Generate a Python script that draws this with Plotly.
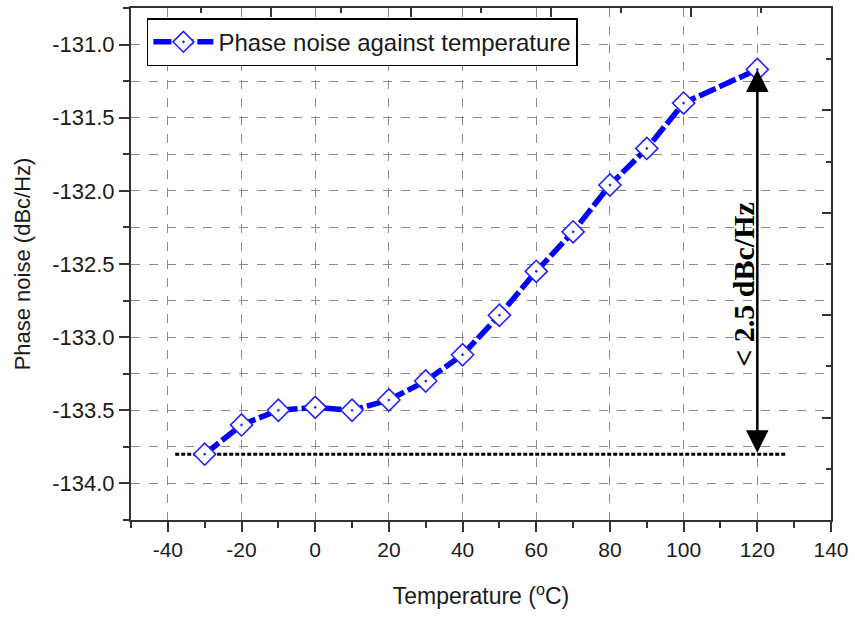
import plotly.graph_objects as go

# Data
temperature = [-30, -20, -10, 0, 10, 20, 30, 40, 50, 60, 70, 80, 90, 100, 120]
phase_noise = [-133.80, -133.60, -133.50, -133.48, -133.50, -133.43, -133.30, -133.12,
               -132.85, -132.55, -132.28, -131.96, -131.71, -131.40, -131.17]
series_name = "Phase noise against temperature"
x_ticks = [-40, -20, 0, 20, 40, 60, 80, 100, 120, 140]
y_ticks = [-134.0, -133.5, -133.0, -132.5, -132.0, -131.5, -131.0]
ref_line_x = [-38, 128]
annotation_text = "&lt; 2.5 dBc/Hz"

BLUE = "#0000ff"
AXIS = "#333333"
GRID = "#8a8a8a"
TXT = "#1a1a1a"
FONT = "Liberation Sans, Arial, sans-serif"

fig = go.Figure()

# reference dotted line at the minimum value
y_min = min(phase_noise)
fig.add_trace(go.Scatter(
    x=ref_line_x, y=[y_min, y_min], mode="lines",
    line=dict(color="black", width=3, dash="4px,2px"),
    showlegend=False, hoverinfo="skip"))

fig.add_trace(go.Scatter(
    x=temperature, y=phase_noise, mode="lines+markers", name=series_name,
    line=dict(color=BLUE, width=5.5, dash="18px,4px"),
    marker=dict(symbol="diamond-dot", size=17, color="white",
                line=dict(color="#2222ff", width=1.6))))

# invisible trace to anchor the secondary (top/right) tick axes
fig.add_trace(go.Scatter(x=[0, 1], y=[0, 1], xaxis="x2", yaxis="y2",
                         mode="markers", marker=dict(opacity=0),
                         showlegend=False, hoverinfo="skip"))

y_max_at_end = phase_noise[-1]
fig.add_annotation(
    x=temperature[-1], y=y_max_at_end, ax=temperature[-1], ay=y_min,
    xref="x", yref="y", axref="x", ayref="y",
    showarrow=True, arrowside="end+start", arrowhead=2, arrowsize=1.8,
    arrowwidth=2.5, arrowcolor="black", text="")
fig.add_annotation(
    x=116.2, y=-132.64, xref="x", yref="y", showarrow=False,
    text="<b>" + annotation_text + "</b>", textangle=-90,
    font=dict(family="Liberation Serif, Times New Roman, serif", size=30, color="black"))

fig.update_layout(
    width=855, height=619,
    margin=dict(l=131, r=19, t=6, b=99),
    paper_bgcolor="white", plot_bgcolor="white",
    font=dict(family=FONT, color=TXT),
    showlegend=True,
    legend=dict(x=0.0227, y=0.98, xanchor="left", yanchor="top",
                bgcolor="white", bordercolor="black", borderwidth=1.5,
                font=dict(size=24, family=FONT, color=TXT),
                itemwidth=60, tracegroupgap=0),
    xaxis=dict(range=[-50, 140], tickvals=x_ticks, ticktext=[str(v) for v in x_ticks],
               ticks="outside", ticklen=10, tickwidth=1.5, tickcolor=AXIS,
               showline=True, linecolor=AXIS, linewidth=2, mirror=True,
               showgrid=True, gridcolor=GRID, griddash="dash", gridwidth=1,
               zeroline=False,
               minor=dict(dtick=10, ticks="outside", ticklen=6, tickcolor=AXIS, showgrid=False),
               tickfont=dict(size=21, family=FONT, color=TXT),
               title=dict(text="Temperature (<sup>o</sup>C)", standoff=28,
                          font=dict(size=23, family=FONT, color=TXT))),
    yaxis=dict(range=[-134.25, -130.75], tickvals=y_ticks,
               ticktext=[f"{v:.1f}" for v in y_ticks],
               ticks="outside", ticklen=10, tickwidth=1.5, tickcolor=AXIS,
               showline=True, linecolor=AXIS, linewidth=2, mirror=True,
               showgrid=False, zeroline=False,
               minor=dict(dtick=0.25, tick0=-134.0, ticks="outside", ticklen=6, tickcolor=AXIS,
                          showgrid=True, gridcolor=GRID, griddash="dash", gridwidth=1),
               tickfont=dict(size=22, family=FONT, color=TXT),
               title=dict(text="Phase noise (dBc/Hz)", standoff=16,
                          font=dict(size=22, family=FONT, color=TXT))),
    xaxis2=dict(overlaying="x", side="top", range=[0, 1], dtick=0.2, tick0=0,
                ticks="inside", ticklen=9, tickwidth=1.5, tickcolor=AXIS,
                showticklabels=False, showgrid=False, zeroline=False, showline=False,
                minor=dict(dtick=0.1, ticks="inside", ticklen=5, tickcolor=AXIS)),
    yaxis2=dict(overlaying="y", side="right", range=[0, 1], dtick=0.2, tick0=0,
                ticks="inside", ticklen=9, tickwidth=1.5, tickcolor=AXIS,
                showticklabels=False, showgrid=False, zeroline=False, showline=False,
                minor=dict(dtick=0.1, ticks="inside", ticklen=5, tickcolor=AXIS)),
)

fig.write_html("out.html")
